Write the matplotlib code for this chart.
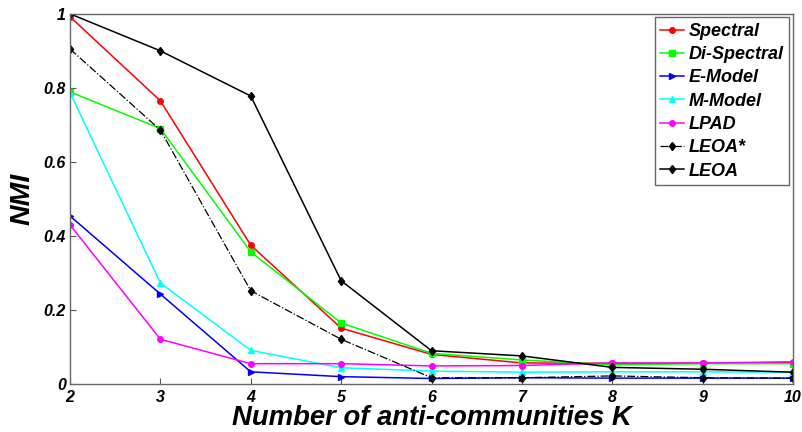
import matplotlib
matplotlib.use("Agg")
import matplotlib.pyplot as plt

K = [2, 3, 4, 5, 6, 7, 8, 9, 10]
spectral = [0.992, 0.765, 0.375, 0.151, 0.080, 0.057, 0.056, 0.056, 0.058]
di_spectral = [0.789, 0.690, 0.357, 0.165, 0.083, 0.065, 0.052, 0.055, 0.055]
e_model = [0.454, 0.243, 0.033, 0.020, 0.015, 0.017, 0.016, 0.016, 0.016]
m_model = [0.787, 0.273, 0.091, 0.044, 0.035, 0.032, 0.033, 0.033, 0.032]
lpad = [0.430, 0.121, 0.055, 0.055, 0.049, 0.050, 0.057, 0.057, 0.060]
leoa_star = [0.905, 0.686, 0.252, 0.121, 0.017, 0.017, 0.022, 0.017, 0.016]
leoa = [1.000, 0.900, 0.778, 0.279, 0.090, 0.076, 0.045, 0.040, 0.032]

series = [
    ("Spectral", spectral, "#ff0000", "o", "-", 4),
    ("Di-Spectral", di_spectral, "#00ff00", "s", "-", 4.5),
    ("E-Model", e_model, "#0000ff", ">", "-", 5),
    ("M-Model", m_model, "#00ffff", "^", "-", 5),
    ("LPAD", lpad, "#ff00ff", "o", "-", 4),
    ("LEOA*", leoa_star, "#000000", "d", "-.", 4.5),
    ("LEOA", leoa, "#000000", "d", "-", 4.5),
]

fig = plt.figure(figsize=(8.02, 4.32), dpi=100)
ax = fig.add_axes([0.0873, 0.111, 0.9015, 0.857])

for name, vals, col, mk, ls, ms in series:
    lw = 0.9 if ls == "-." else 1.1
    ax.plot(K, vals, color=col, marker=mk, linestyle=ls, linewidth=lw,
            markersize=ms, label=name)

ax.set_xlim(2, 10)
ax.set_ylim(0, 1)
ax.set_xticks(K)
ax.set_yticks([0, 0.2, 0.4, 0.6, 0.8, 1.0])
ax.set_yticklabels(["0", "0.2", "0.4", "0.6", "0.8", "1"])
for lab in ax.get_xticklabels() + ax.get_yticklabels():
    lab.set_fontweight("bold")
    lab.set_fontstyle("italic")
    lab.set_fontsize(11.5)
    lab.set_family("Liberation Sans")
ax.tick_params(direction="in", length=4, color="#555555", pad=3)
ax.tick_params(axis="x", pad=4)
for sp in ax.spines.values():
    sp.set_color("#666666")
    sp.set_linewidth(1.0)

ax.set_xlabel("Number of anti-communities K", fontsize=19.8, fontweight="bold",
              fontstyle="italic", family="Liberation Sans", labelpad=0)
ax.set_ylabel("NMI", fontsize=20.5, fontweight="bold", fontstyle="italic",
              family="Liberation Sans", labelpad=6)

leg = ax.legend(loc="upper right", prop={"family": "Liberation Sans", "weight": "bold",
                                         "style": "italic", "size": 13},
                handlelength=1.3, handletextpad=0.3, labelspacing=0.35,
                borderpad=0.3, fancybox=False, framealpha=1, borderaxespad=0.2)
leg.get_frame().set_edgecolor("#666666")
leg.get_frame().set_linewidth(1.0)

fig.savefig("out.png", dpi=100)
